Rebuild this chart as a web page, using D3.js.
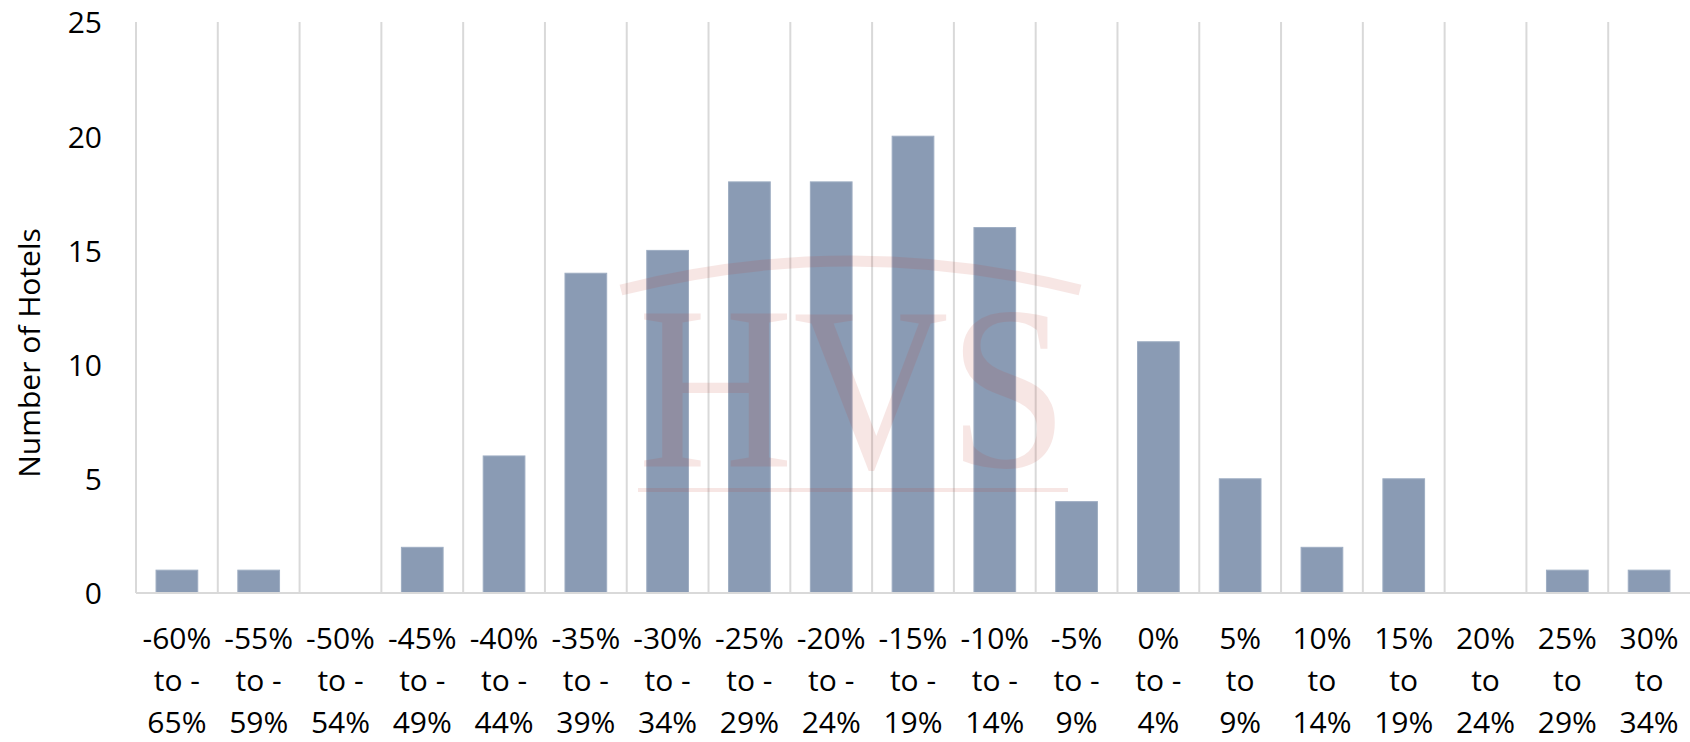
<!DOCTYPE html>
<html>
<head>
<meta charset="utf-8">
<script src="https://cdn.jsdelivr.net/npm/d3@7"></script>
<style>
  html, body { margin: 0; padding: 0; background: #ffffff; }
  svg { display: block; }
  .lbl { font-family: "Open Sans", "Noto Sans", sans-serif; fill: #000; }
</style>
</head>
<body>
<svg id="chart" width="1690" height="742"></svg>
<script>
// Distribution of hotels by percentage change bucket
const bucketLines = [
  ["-60%", "to -", "65%"],
  ["-55%", "to -", "59%"],
  ["-50%", "to -", "54%"],
  ["-45%", "to -", "49%"],
  ["-40%", "to -", "44%"],
  ["-35%", "to -", "39%"],
  ["-30%", "to -", "34%"],
  ["-25%", "to -", "29%"],
  ["-20%", "to -", "24%"],
  ["-15%", "to -", "19%"],
  ["-10%", "to -", "14%"],
  ["-5%", "to -", "9%"],
  ["0%", "to -", "4%"],
  ["5%", "to", "9%"],
  ["10%", "to", "14%"],
  ["15%", "to", "19%"],
  ["20%", "to", "24%"],
  ["25%", "to", "29%"],
  ["30%", "to", "34%"]
];
const categories = bucketLines.map(l => l.join(" "));
const hotelCounts = [1, 1, 0, 2, 6, 14, 15, 18, 18, 20, 16, 4, 11, 5, 2, 5, 0, 1, 1];
const yTicks = [0, 5, 10, 15, 20, 25];
const yTitle = "Number of Hotels";

const svg = d3.select("#chart");
const plot = { left: 136, right: 1690, top: 22, bottom: 593 };

const x = d3.scaleBand()
  .domain(categories)
  .range([plot.left, plot.right])
  .paddingInner(0.49)
  .paddingOuter(0.245);

const y = d3.scaleLinear()
  .domain([0, 25])
  .range([plot.bottom, plot.top]);

const step = x.step();
const bandStart = c => x(c) - x.paddingOuter() * step;

// vertical category gridlines
svg.append("g")
  .selectAll("line")
  .data(categories)
  .join("line")
  .attr("x1", c => bandStart(c))
  .attr("x2", c => bandStart(c))
  .attr("y1", y(25))
  .attr("y2", y(0))
  .attr("stroke", "#d9d9d9")
  .attr("stroke-width", 2);

// bars
svg.append("g")
  .selectAll("rect")
  .data(hotelCounts)
  .join("rect")
  .attr("x", (d, i) => x(categories[i]))
  .attr("width", x.bandwidth())
  .attr("y", d => y(d))
  .attr("height", d => y(0) - y(d))
  .attr("fill", "#8a9bb4")
  .attr("stroke", "#9eadc2")
  .attr("stroke-width", 1);

// baseline
svg.append("line")
  .attr("x1", plot.left)
  .attr("x2", plot.right)
  .attr("y1", y(0))
  .attr("y2", y(0))
  .attr("stroke", "#d9d9d9")
  .attr("stroke-width", 2);

// y axis tick labels
const yAxis = d3.axisLeft(y).tickValues(yTicks).tickSize(0).tickPadding(0);
const gy = svg.append("g")
  .attr("transform", "translate(102,0)")
  .call(yAxis);
gy.select(".domain").remove();
gy.selectAll("text")
  .attr("class", "lbl")
  .attr("font-size", 30)
  .attr("dy", "0.36em");

// x axis labels, three lines each
const xLabels = svg.append("g");
bucketLines.forEach((lines, i) => {
  const cx = x(categories[i]) + x.bandwidth() / 2;
  const t = xLabels.append("text")
    .attr("class", "lbl")
    .attr("x", cx)
    .attr("y", 649)
    .attr("text-anchor", "middle")
    .attr("font-size", 30);
  lines.forEach((ln, j) => {
    t.append("tspan")
      .attr("x", cx)
      .attr("y", 649 + j * 42)
      .text(ln);
  });
});

// y axis title
svg.append("text")
  .attr("class", "lbl")
  .attr("transform", "translate(40,353) rotate(-90)")
  .attr("text-anchor", "middle")
  .attr("font-size", 30)
  .text(yTitle);

// translucent HVS logo watermark over the plot
const mark = svg.append("g")
  .attr("opacity", 0.12)
  .style("pointer-events", "none");
mark.append("path")
  .attr("d", "M621,290 Q850,232 1080,290")
  .attr("fill", "none")
  .attr("stroke", "#c0392b")
  .attr("stroke-width", 11);
mark.append("text")
  .attr("x", 638)
  .attr("y", 467)
  .attr("textLength", 430)
  .attr("lengthAdjust", "spacingAndGlyphs")
  .style("font-family", "'Liberation Serif', 'DejaVu Serif', serif")
  .style("font-size", "234px")
  .style("fill", "#c0392b")
  .text("HVS");
mark.append("rect")
  .attr("x", 638)
  .attr("y", 488)
  .attr("width", 430)
  .attr("height", 4)
  .attr("fill", "#c0392b");
</script>
</body>
</html>
